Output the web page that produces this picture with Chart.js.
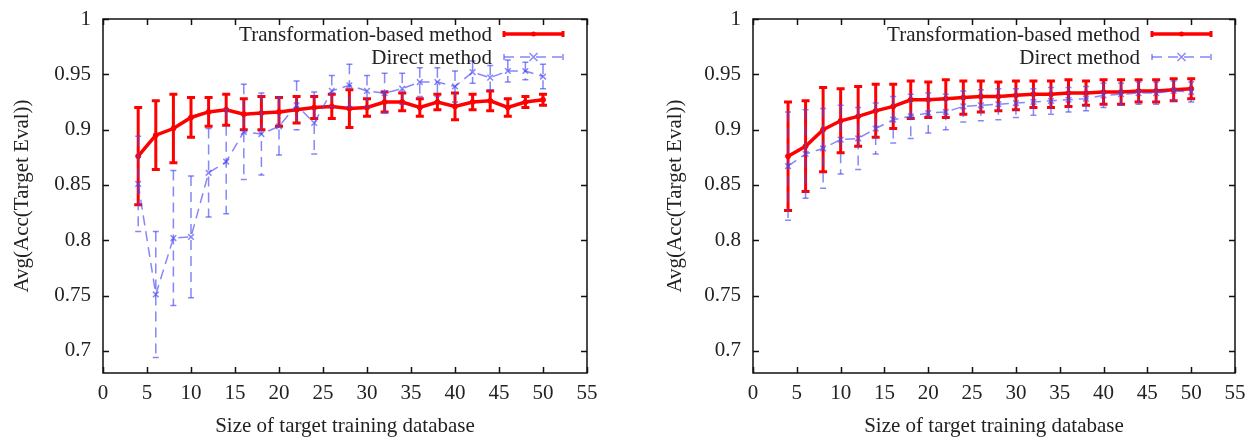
<!DOCTYPE html>
<html>
<head>
<meta charset="utf-8">
<script src="https://cdn.jsdelivr.net/npm/chart.js@4.4.1/dist/chart.umd.min.js"></script>
<style>
html, body { margin: 0; padding: 0; background: #fff; }
#wrap { position: relative; width: 1250px; height: 441px; }
.pane { position: absolute; top: 0; width: 625px; height: 441px; }
</style>
</head>
<body>
<div id="wrap">
	<div class="pane" style="left:0"><canvas id="left" width="625" height="441"></canvas></div>
	<div class="pane" style="left:625px"><canvas id="right" width="625" height="441"></canvas></div>
</div>
<script>
const sizes = [4, 6, 8, 10, 12, 14, 16, 18, 20, 22, 24, 26, 28, 30, 32, 34, 36, 38, 40, 42, 44, 46, 48, 50];

//left panel
const leftTransMean = [0.876, 0.895, 0.901, 0.911, 0.916, 0.918, 0.914, 0.915, 0.916, 0.918, 0.920, 0.921,
	0.919, 0.920, 0.925, 0.925, 0.920, 0.925, 0.921, 0.925, 0.926, 0.920, 0.925, 0.927];
const leftTransErr = [0.044, 0.031, 0.031, 0.018, 0.013, 0.014, 0.014, 0.015, 0.013, 0.012, 0.010, 0.011,
	0.017, 0.008, 0.009, 0.008, 0.008, 0.007, 0.012, 0.007, 0.009, 0.008, 0.005, 0.005];
const leftDirectMean = [0.851, 0.751, 0.802, 0.803, 0.861, 0.871, 0.898, 0.896, 0.903, 0.922, 0.906, 0.935,
	0.940, 0.935, 0.933, 0.937, 0.943, 0.943, 0.939, 0.952, 0.947, 0.953, 0.953, 0.948];
const leftDirectErr = [0.043, 0.057, 0.061, 0.055, 0.040, 0.047, 0.043, 0.037, 0.026, 0.022, 0.028, 0.014,
	0.019, 0.014, 0.018, 0.014, 0.013, 0.013, 0.014, 0.010, 0.011, 0.010, 0.008, 0.011];

//right panel
const rightTransMean = [0.876, 0.885, 0.900, 0.908, 0.912, 0.917, 0.921, 0.927, 0.927, 0.928, 0.929, 0.930,
	0.930, 0.931, 0.932, 0.932, 0.933, 0.933, 0.934, 0.934, 0.935, 0.935, 0.936, 0.937];
const rightTransErr = [0.049, 0.041, 0.038, 0.029, 0.027, 0.024, 0.020, 0.017, 0.016, 0.017, 0.015, 0.014,
	0.013, 0.013, 0.012, 0.012, 0.012, 0.011, 0.011, 0.011, 0.010, 0.010, 0.010, 0.009];
const rightDirectMean = [0.867, 0.878, 0.883, 0.891, 0.892, 0.901, 0.909, 0.912, 0.915, 0.916, 0.921, 0.922,
	0.923, 0.924, 0.925, 0.926, 0.927, 0.928, 0.931, 0.932, 0.933, 0.933, 0.935, 0.934];
const rightDirectErr = [0.049, 0.040, 0.036, 0.031, 0.028, 0.023, 0.021, 0.020, 0.018, 0.016, 0.014, 0.014,
	0.014, 0.013, 0.012, 0.012, 0.011, 0.011, 0.011, 0.010, 0.010, 0.010, 0.009, 0.009];

const xTicks = [0, 5, 10, 15, 20, 25, 30, 35, 40, 45, 50, 55];
const yTicks = [0.7, 0.75, 0.8, 0.85, 0.9, 0.95, 1];
const seriesNames = ['Transformation-based method', 'Direct method'];

const FONT = {family: '"Liberation Serif", "Times New Roman", serif', size: 21};
const INK = '#222';
const RED = '#ff0000';
const BLUE = 'rgba(70, 70, 245, 0.65)';

const pointsOf = (means) => sizes.map((x, i) => ({x: x, y: means[i]}));

const drawMarker = (ctx, style, x, y, r) => {
	ctx.beginPath();
	if(style === 'circle') {
		ctx.arc(x, y, r, 0, Math.PI * 2);
		ctx.fill();
	} else {
		ctx.moveTo(x - r, y - r); ctx.lineTo(x + r, y + r);
		ctx.moveTo(x + r, y - r); ctx.lineTo(x - r, y + r);
		ctx.stroke();
	}
}

//error bars, frame with inward ticks, gnuplot-like key
const gnuplotLook = {
	id: 'gnuplotLook',
	afterDatasetDraw(chart, args) {
		let ds = chart.data.datasets[args.index];
		if(!ds.errors) return;
		let ctx = chart.ctx, xs = chart.scales.x, ys = chart.scales.y;
		let dash = ds.borderDash || [];

		ctx.save();
		ctx.strokeStyle = ds.borderColor;
		ctx.lineWidth = ds.errWidth;
		ds.data.forEach((p, i) => {
			let px = xs.getPixelForValue(p.x);
			let top = ys.getPixelForValue(p.y + ds.errors[i]);
			let bot = ys.getPixelForValue(p.y - ds.errors[i]);
			ctx.setLineDash(dash);
			ctx.beginPath(); ctx.moveTo(px, top); ctx.lineTo(px, bot); ctx.stroke();
			ctx.setLineDash([]);
			ctx.beginPath();
			ctx.moveTo(px - ds.capHalf, top); ctx.lineTo(px + ds.capHalf, top);
			ctx.moveTo(px - ds.capHalf, bot); ctx.lineTo(px + ds.capHalf, bot);
			ctx.stroke();
		});
		ctx.restore();
	},
	afterDraw(chart) {
		let ctx = chart.ctx, a = chart.chartArea, xs = chart.scales.x, ys = chart.scales.y;
		ctx.save();
		ctx.strokeStyle = '#111';
		ctx.lineWidth = 1.5;
		ctx.strokeRect(a.left, a.top, a.right - a.left, a.bottom - a.top);

		ctx.beginPath();
		xTicks.forEach(v => {
			let px = Math.round(xs.getPixelForValue(v)) + 0.5;
			ctx.moveTo(px, a.bottom); ctx.lineTo(px, a.bottom - 6);
			ctx.moveTo(px, a.top); ctx.lineTo(px, a.top + 6);
		});
		yTicks.forEach(v => {
			let py = Math.round(ys.getPixelForValue(v)) + 0.5;
			ctx.moveTo(a.left, py); ctx.lineTo(a.left + 6, py);
			ctx.moveTo(a.right, py); ctx.lineTo(a.right - 6, py);
		});
		ctx.stroke();

		//key in the upper right corner
		ctx.font = `${FONT.size}px ${FONT.family}`;
		ctx.textAlign = 'right';
		ctx.textBaseline = 'middle';
		chart.data.datasets.slice().sort((d1, d2) => d1.keyRow - d2.keyRow).forEach((ds, row) => {
			let y = a.top + 15 + row * 23;
			let x1 = a.right - 83, x2 = a.right - 24;
			ctx.fillStyle = INK;
			ctx.fillText(ds.label, a.right - 95, y + 1);

			ctx.strokeStyle = ds.borderColor;
			ctx.fillStyle = ds.borderColor;
			ctx.lineWidth = ds.borderWidth;
			ctx.setLineDash(ds.borderDash || []);
			ctx.beginPath(); ctx.moveTo(x1, y); ctx.lineTo(x2, y); ctx.stroke();
			ctx.setLineDash([]);
			ctx.lineWidth = ds.errWidth;
			ctx.beginPath();
			ctx.moveTo(x1, y - 3); ctx.lineTo(x1, y + 3);
			ctx.moveTo(x2, y - 3); ctx.lineTo(x2, y + 3);
			ctx.stroke();
			ctx.lineWidth = ds.pointBorderWidth;
			drawMarker(ctx, ds.pointStyle === 'circle' ? 'circle' : 'cross', (x1 + x2) / 2, y, ds.pointRadius);
		});
		ctx.restore();
	}
};

const buildChart = (id, transMean, transErr, directMean, directErr, yAxisWidth, titlePad, padRight) => {
	let ctx = document.querySelector('#' + id).getContext('2d');

	return new Chart(ctx, {
		type: 'line',
		data: {
			datasets: [
				{
					label: seriesNames[1],
					data: pointsOf(directMean),
					errors: directErr,
					keyRow: 1,
					order: 0,
					borderColor: BLUE,
					backgroundColor: BLUE,
					borderWidth: 1.5,
					borderDash: [10, 6],
					errWidth: 1.5,
					capHalf: 3,
					pointStyle: 'crossRot',
					pointRadius: 4,
					pointBorderWidth: 1.5,
					tension: 0
				},
				{
					label: seriesNames[0],
					data: pointsOf(transMean),
					errors: transErr,
					keyRow: 0,
					order: 1,
					borderColor: RED,
					backgroundColor: RED,
					borderWidth: 3.5,
					errWidth: 3,
					capHalf: 4,
					pointStyle: 'circle',
					pointRadius: 2.5,
					pointBorderWidth: 1,
					tension: 0
				}
			]
		},
		options: {
			responsive: false,
			animation: false,
			layout: {padding: {left: 0, top: 19, right: padRight, bottom: 0}},
			plugins: {
				legend: {display: false},
				tooltip: {enabled: false}
			},
			scales: {
				x: {
					type: 'linear',
					min: 0,
					max: 55,
					afterBuildTicks: s => { s.ticks = xTicks.map(v => ({value: v})); },
					//fixed axis size, no label overhang padding
					afterFit: s => { s.height = 68; s.paddingLeft = 0; s.paddingRight = 0; },
					grid: {display: false, drawTicks: false},
					border: {display: false},
					ticks: {font: FONT, color: INK, padding: 8, maxRotation: 0, autoSkip: false},
					title: {display: true, text: 'Size of target training database', font: FONT, color: INK,
						padding: {top: 0, bottom: 2}}
				},
				y: {
					min: 0.68,
					max: 1,
					afterBuildTicks: s => { s.ticks = yTicks.map(v => ({value: v})); },
					afterFit: s => { s.width = yAxisWidth; s.paddingTop = 0; s.paddingBottom = 0; },
					grid: {display: false, drawTicks: false},
					border: {display: false},
					ticks: {font: FONT, color: INK, padding: 12, autoSkip: false, callback: v => String(v)},
					title: {display: true, text: 'Avg(Acc(Target Eval))', font: FONT, color: INK,
						padding: {top: titlePad, bottom: 0}}
				}
			}
		},
		plugins: [gnuplotLook]
	});
}

buildChart('left', leftTransMean, leftTransErr, leftDirectMean, leftDirectErr, 103, 10, 38);
buildChart('right', rightTransMean, rightTransErr, rightDirectMean, rightDirectErr, 128, 38, 15);
</script>
</body>
</html>
